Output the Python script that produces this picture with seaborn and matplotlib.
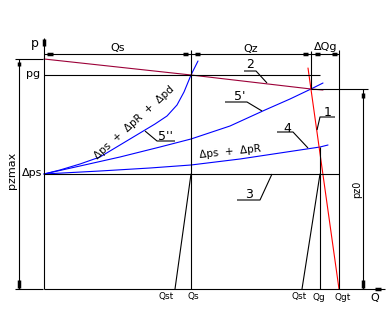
import matplotlib
matplotlib.use("Agg")
import matplotlib.pyplot as plt
import seaborn as sns
import pandas as pd

sns.set_theme(style="white")
plt.rcParams['font.family'] = ['DejaVu Sans']

# ---- schematic quantities (Q along x, p along y), origin at the axes corner ----
Q_s, Q_st1 = 147, 131
Q_gx, Q_g, Q_st2, Q_gt = 267, 276, 258, 295
p_zmax, p_g, p_z0, dp_s, p_dim = 230, 214, 200, 115, 235

# curve 5'' : dps + dpR + dpd
curve_5pp_Q = [0, 16, 36, 56, 76, 96, 111, 123, 133, 140, 147, 154]
curve_5pp_p = [115, 119, 125, 132, 144, 156, 165, 173, 184, 197, 214, 228]
# curve 5'
curve_5p_Q = [0, 36, 76, 116, 147, 186, 221, 246, 267, 279]
curve_5p_p = [115, 123, 132, 142, 150, 163, 179, 190, 200, 206]
# curve 4 : dps + dpR
curve_4_Q = [0, 56, 106, 147, 196, 236, 276, 284]
curve_4_p = [115, 118, 121, 124, 130, 136, 142, 144]
# line 2 (maroon)
line_2_Q = [0, 147, 267, 279]
line_2_p = [230, 214, 200, 199]
# line 1 (red)
line_1_Q = [264, 295]
line_1_p = [221, 0]
# black slanted lines
line_a_Q = [147, 131]
line_a_p = [115, 0]
line_b_Q = [276, 258]
line_b_p = [115, 0]

BLUE = '#0000ff'
RED = '#ff0000'
MAROON = '#9c0038'
K = 'black'
LW = 0.8

fig = plt.figure(figsize=(3.92, 3.27), dpi=100)
ax = fig.add_axes([0, 0, 1, 1])

def seg(x, y, lw=LW, c=K):
    ax.plot(x, y, color=c, lw=lw, solid_capstyle='butt')

# curves via seaborn
for qs, ps, col in [(curve_5pp_Q, curve_5pp_p, BLUE),
                    (curve_5p_Q, curve_5p_p, BLUE),
                    (curve_4_Q, curve_4_p, BLUE),
                    (line_2_Q, line_2_p, MAROON),
                    (line_1_Q, line_1_p, RED),
                    (line_a_Q, line_a_p, K),
                    (line_b_Q, line_b_p, K)]:
    df = pd.DataFrame({'Q': qs, 'p': ps})
    sns.lineplot(data=df, x='Q', y='p', ax=ax, color=col, lw=LW, sort=False,
                 estimator=None)
ax.set_xlim(-44, 348)
ax.set_ylim(-38, 289)
ax.axis('off')

# axes
seg([0, 0], [0, 251])
seg([0, 341], [0, 0])
seg([331, 337], [0, 0], lw=2.5)
seg([0, 0], [243, 250], lw=2.5)

# left dimension p_zmax
seg([-25, -25], [0, p_zmax])
seg([-29, -1], [p_zmax, p_zmax])
seg([-29, -1], [0, 0])
seg([-25, -25], [223, 227], lw=2.5)
seg([-25, -25], [1, 9], lw=2.5)

# top dimension line
seg([0, Q_gt], [p_dim, p_dim])
for a, b in [(3, 9), (139, 144), (151, 156), (259, 264), (271, 276), (288, 293)]:
    seg([a, b], [p_dim, p_dim], lw=2.5)

# verticals
seg([Q_s, Q_s], [0, 239])
seg([Q_gx, Q_gx], [p_z0, 238])
seg([Q_g, Q_g], [0, 142])
seg([Q_gt, Q_gt], [0, 239])

# horizontals
seg([0, 276], [p_g, p_g])
seg([Q_gx, 324], [p_z0, p_z0])
seg([0, Q_gt], [dp_s, dp_s])

# right dimension p_z0
seg([319, 319], [0, p_z0])
seg([319, 319], [191, 196], lw=2.5)
seg([319, 319], [1, 9], lw=2.5)

# leaders
for pts in [[(200, 218), (212, 218), (223, 206)],
            [(181, 187), (203, 187), (218, 178)],
            [(131, 148), (113, 148), (101, 158)],
            [(291, 172), (276, 172), (273, 159)],
            [(233, 157), (249, 157), (264, 141)],
            [(193, 89), (216, 89), (228, 115)]]:
    seg([p[0] for p in pts], [p[1] for p in pts])

def txt(x, y, s, fs=8, rot=0, ha='center', va='center'):
    ax.text(x, y, s, fontsize=fs, rotation=rot, ha=ha, va=va, color=K,
            rotation_mode='anchor')

txt(-9, 245, 'p', 9)
txt(-11, 215, 'pg', 8)
txt(-2, 116, 'Δps', 8, ha='right')
txt(-32, 119, 'pzmax', 8, rot=90)
txt(313, 100, 'pz0', 7, rot=90)
txt(74, 241, 'Qs', 8)
txt(207, 240, 'Qz', 8)
txt(282, 242, 'ΔQg', 8)
for q, s in [(122, 'Qst'), (149, 'Qs'), (255, 'Qst'), (275, 'Qg'), (299, 'Qgt')]:
    txt(q, -8, s, 6.5)
txt(331, -9, 'Q', 8)
txt(206, 224, '2', 9)
txt(196, 192, "5'", 9)
txt(122, 152, "5''", 9)
txt(284, 177, '1', 9)
txt(243, 161, '4', 9)
txt(205, 94, '3', 9)
txt(90, 166, 'Δps  +  ΔpR  +  Δpd', 7.5, rot=42)
txt(186, 137, 'Δps  +  ΔpR', 7.5, rot=6)

fig.savefig('out.png', dpi=100)
